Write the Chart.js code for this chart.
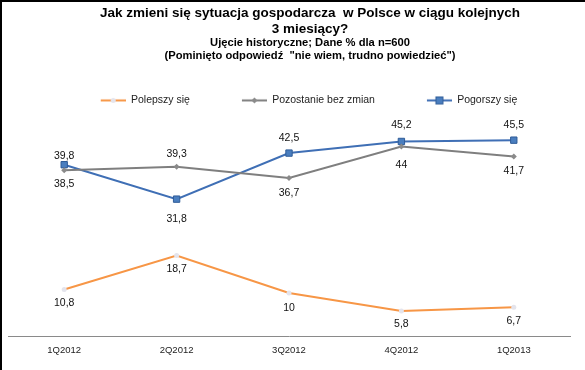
<!DOCTYPE html>
<html>
<head>
<meta charset="utf-8">
<script src="https://cdn.jsdelivr.net/npm/chart.js@4.4.1/dist/chart.umd.min.js"></script>
<style>
  body { margin: 0; overflow: hidden; background: #fff; }
  #wrap { position: relative; width: 585px; height: 370px; overflow: hidden; }
  #frame { position: absolute; left: 0; top: 0; width: 585px; height: 370px;
           border-left: 2px solid #000; border-top: 2px solid #000; box-sizing: border-box; pointer-events: none; }
</style>
</head>
<body>
<div id="wrap">
  <canvas id="chart" width="620" height="370"></canvas>
  <div id="frame"></div>
</div>
<script>
// Data
const quarters = ['1Q2012', '2Q2012', '3Q2012', '4Q2012', '1Q2013'];
const better = [10.8, 18.7, 10, 5.8, 6.7];
const same = [38.5, 39.3, 36.7, 44, 41.7];
const worse = [39.8, 31.8, 42.5, 45.2, 45.5];

// label placement (px from the point, negative = above)
const labelOffsets = [
    [14, 14, 15, 13, 14],
    [14, -13, 15, 18, 15],
    [-9, 20, -15, -16, -15],
];

// legend marker: transparent lead + line with a marker in the middle
function legendIcon(color, drawMarker) {
    const c = document.createElement('canvas');
    c.width = 65;
    c.height = 9;
    const g = c.getContext('2d');
    g.strokeStyle = color;
    g.lineWidth = 2;
    g.beginPath();
    g.moveTo(40, 4.5);
    g.lineTo(65, 4.5);
    g.stroke();
    drawMarker(g, 52.5, 4.5);
    return c;
}

const betterIcon = legendIcon('#F79646', (g, x, y) => {
    g.fillStyle = '#e4e4ec';
    g.beginPath(); g.arc(x, y, 2.5, 0, Math.PI * 2); g.fill();
});
const sameIcon = legendIcon('#7F7F7F', (g, x, y) => {
    g.fillStyle = '#8a8a8a';
    g.beginPath(); g.moveTo(x, y - 3); g.lineTo(x + 3, y); g.lineTo(x, y + 3); g.lineTo(x - 3, y); g.fill();
});
const worseIcon = legendIcon('#3F6FB5', (g, x, y) => {
    g.fillStyle = '#4A7EBF';
    g.fillRect(x - 3.5, y - 3.5, 7, 7);
    g.strokeStyle = '#2F5C98';
    g.lineWidth = 1;
    g.strokeRect(x - 3.5, y - 3.5, 7, 7);
});

const valueLabels = {
    id: 'valueLabels',
    afterDatasetsDraw(chart) {
        const ctx = chart.ctx;
        ctx.save();
        ctx.font = '10.5px "Liberation Sans", Arial, sans-serif';
        ctx.fillStyle = '#111';
        ctx.textAlign = 'center';
        ctx.textBaseline = 'middle';
        chart.data.datasets.forEach((ds, i) => {
            chart.getDatasetMeta(i).data.forEach((pt, j) => {
                const txt = String(ds.data[j]).replace('.', ',');
                ctx.fillText(txt, pt.x, pt.y + labelOffsets[i][j]);
            });
        });
        ctx.restore();
    }
};

const chartData = {
    labels: quarters,
    datasets: [{
        label: 'Polepszy się',
        data: better,
        borderColor: '#F79646',
        backgroundColor: '#e4e4ec',
        borderWidth: 2,
        pointStyle: 'circle',
        pointRadius: 2.5,
        pointBorderWidth: 0,
        legendIcon: betterIcon,
    }, {
        label: 'Pozostanie bez zmian',
        data: same,
        borderColor: '#7F7F7F',
        backgroundColor: '#8a8a8a',
        borderWidth: 2,
        pointStyle: 'rectRot',
        pointRadius: 3,
        pointBorderWidth: 0,
        legendIcon: sameIcon,
    }, {
        label: 'Pogorszy się',
        data: worse,
        borderColor: '#3F6FB5',
        backgroundColor: '#4A7EBF',
        borderWidth: 2,
        pointStyle: 'rect',
        pointRadius: 4.5,
        pointBorderColor: '#2F5C98',
        pointBorderWidth: 1,
        legendIcon: worseIcon,
    }]
};

const chartConfig = {
    type: 'line',
    data: chartData,
    options: {
        responsive: false,
        animation: false,
        layout: { padding: 0 },
        plugins: {
            title: {
                display: true,
                text: ['Jak zmieni się sytuacja gospodarcza  w Polsce w ciągu kolejnych', '3 miesiący?'],
                color: '#000',
                font: { family: '"Liberation Sans", Arial, sans-serif', size: 13.5, weight: 'bold', lineHeight: 1.16 },
                padding: { top: 5.5, bottom: 0 },
            },
            subtitle: {
                display: true,
                text: ['Ujęcie historyczne; Dane % dla n=600', '(Pominięto odpowiedź  "nie wiem, trudno powiedzieć")'],
                color: '#000',
                font: { family: '"Liberation Sans", Arial, sans-serif', size: 11.2, weight: 'bold', lineHeight: 1.13 },
                padding: { top: 0, bottom: 21 },
            },
            legend: {
                position: 'top',
                fullSize: false,
                labels: {
                    color: '#222',
                    font: { family: '"Liberation Sans", Arial, sans-serif', size: 10.5 },
                    usePointStyle: true,
                    pointStyleWidth: 65,
                    padding: 12,
                    generateLabels(chart) {
                        return chart.data.datasets.map((ds, i) => ({
                            text: ds.label,
                            pointStyle: ds.legendIcon,
                            fontColor: '#222',
                            datasetIndex: i,
                            lineWidth: 0,
                        }));
                    }
                }
            },
            tooltip: { enabled: false },
        },
        scales: {
            x: {
                offset: true,
                grid: { display: false, drawTicks: false },
                border: { display: true, color: '#8a8a8a', width: 1 },
                ticks: {
                    color: '#222',
                    padding: 9,
                    font: { family: '"Liberation Sans", Arial, sans-serif', size: 9.5 },
                },
                afterFit(scale) { scale.height = 34; },
            },
            y: {
                min: 0,
                max: 51.2,
                grid: { display: false },
                border: { display: false },
                ticks: { display: false },
                afterFit(scale) { scale.width = 8; },
            },
            y2: {
                position: 'right',
                min: 0,
                max: 51.2,
                grid: { display: false },
                border: { display: false },
                ticks: { display: false },
                afterFit(scale) { scale.width = 50; },
            },
        }
    },
    plugins: [valueLabels]
};

const lineChart = new Chart(document.getElementById('chart'), chartConfig);
</script>
</body>
</html>
